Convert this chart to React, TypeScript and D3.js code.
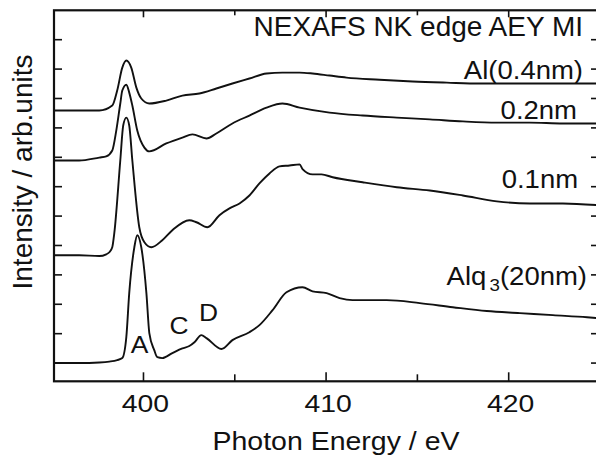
import React from "react";
import * as d3 from "d3";

const W = 596;
const H = 459;
const plot = { left: 54, right: 600, top: 10.3, bottom: 381.3 };

const FONT = "'Liberation Sans', Arial, Helvetica, sans-serif";

// x axis
const xMajorTicks = [400, 410, 420];
const xMinorTicks = [405, 415];
const yTicks = [0, 1, 2, 3, 4, 5, 6, 7, 8, 9, 10, 11];

// Al(0.4nm)
const al04Energy = [395.0, 396.48, 397.58, 398.29, 398.56, 398.84, 399.06, 399.33, 399.61, 399.88, 400.32, 401.25, 402.13, 403.06, 403.99, 404.87, 405.8, 406.74, 407.61, 408.55, 409.26, 410.19, 411.12, 412.93, 414.74, 416.61, 418.42, 420.23, 422.09, 423.9, 424.9];
const al04Intensity = [8.59, 8.59, 8.59, 8.76, 9.27, 10.05, 10.29, 10.05, 9.37, 9.0, 8.83, 8.93, 9.1, 9.17, 9.34, 9.51, 9.68, 9.85, 9.88, 9.88, 9.85, 9.78, 9.71, 9.64, 9.58, 9.54, 9.51, 9.51, 9.51, 9.51, 9.51];

// 0.2nm
const al02Energy = [395.0, 396.48, 397.58, 397.96, 398.29, 398.51, 398.73, 398.84, 399.06, 399.22, 399.39, 399.66, 400.05, 400.32, 401.25, 402.13, 402.68, 403.45, 403.99, 404.87, 405.8, 406.74, 407.61, 408.55, 410.19, 412.0, 413.87, 415.68, 417.49, 419.35, 421.16, 422.97, 424.9];
const al02Intensity = [6.89, 6.89, 6.99, 7.03, 7.23, 7.91, 8.83, 9.27, 9.47, 9.2, 8.76, 7.91, 7.33, 7.2, 7.47, 7.67, 7.78, 7.64, 7.81, 8.15, 8.42, 8.69, 8.83, 8.69, 8.52, 8.42, 8.35, 8.29, 8.22, 8.18, 8.18, 8.15, 8.15];

// 0.1nm
const al01Energy = [395.0, 396.48, 397.58, 397.96, 398.13, 398.29, 398.4, 398.73, 398.89, 399.06, 399.22, 399.39, 399.77, 400.05, 400.43, 401.03, 401.58, 402.51, 402.9, 403.5, 404.16, 404.71, 405.26, 405.8, 406.35, 406.9, 407.45, 408.0, 408.55, 408.71, 409.26, 409.75, 410.36, 412.0, 413.87, 415.68, 417.49, 419.35, 421.16, 422.97, 424.9];
const al01Intensity = [3.67, 3.67, 3.64, 3.7, 3.77, 3.94, 4.41, 6.89, 8.08, 8.35, 8.08, 6.89, 4.62, 4.11, 3.94, 4.18, 4.52, 4.86, 4.79, 4.62, 5.03, 5.26, 5.43, 5.7, 6.11, 6.45, 6.69, 6.72, 6.76, 6.6, 6.42, 6.42, 6.32, 6.15, 5.98, 5.87, 5.7, 5.5, 5.43, 5.43, 5.37];

// Alq3(20nm)
const alq3Energy = [395.0, 396.48, 397.58, 398.13, 398.56, 398.84, 399.06, 399.22, 399.5, 399.66, 399.88, 400.16, 400.32, 400.59, 400.76, 401.03, 401.58, 402.13, 402.51, 402.79, 403.17, 403.45, 404.27, 404.87, 405.8, 406.35, 407.07, 407.83, 408.71, 409.26, 410.03, 410.74, 411.45, 413.32, 415.13, 416.94, 418.8, 420.61, 422.42, 424.29, 424.9];
const alq3Intensity = [0, 0, 0.02, 0.05, 0.1, 0.17, 0.88, 2.38, 3.94, 4.35, 3.94, 2.38, 1.02, 0.44, 0.2, 0.17, 0.34, 0.5, 0.58, 0.71, 0.95, 0.85, 0.48, 0.78, 1.05, 1.29, 1.8, 2.41, 2.58, 2.44, 2.38, 2.21, 2.14, 2.14, 2.04, 1.9, 1.77, 1.7, 1.63, 1.56, 1.53];

const seriesList = [
  { name: "Al(0.4nm)", energy: al04Energy, intensity: al04Intensity },
  { name: "0.2nm", energy: al02Energy, intensity: al02Intensity },
  { name: "0.1nm", energy: al01Energy, intensity: al01Intensity },
  { name: "Alq3(20nm)", energy: alq3Energy, intensity: alq3Intensity },
];

const Label = ({ x, y, size, sx = 1, anchor = "start", children }: any) => (
  <text
    transform={`translate(${x},${y}) scale(${sx},1)`}
    fontSize={size}
    textAnchor={anchor}
    fill="#111"
    fontFamily={FONT}
  >
    {children}
  </text>
);

export default function App() {
  const x = d3.scaleLinear().domain([395.1, 425]).range([plot.left, plot.right]);
  const y = d3.scaleLinear().domain([-0.62, 12]).range([plot.bottom, plot.top]);

  const line = d3
    .line<[number, number]>()
    .x((d) => x(d[0]))
    .y((d) => y(d[1]))
    .curve(d3.curveMonotoneX);

  return (
    <svg
      width={W}
      height={H}
      style={{ position: "absolute", left: 0, top: 0, background: "#fff" }}
    >
      <rect width={W} height={H} fill="#fff" />
      <defs>
        <clipPath id="clip">
          <rect x={plot.left} y={plot.top} width={plot.right - plot.left} height={plot.bottom - plot.top} />
        </clipPath>
      </defs>

      {/* curves */}
      <g clipPath="url(#clip)">
        {seriesList.map((s) => (
          <path
            key={s.name}
            d={line(s.energy.map((e, i) => [e, s.intensity[i]] as [number, number])) || ""}
            fill="none"
            stroke="#111"
            strokeWidth={1.9}
            strokeLinejoin="round"
          />
        ))}
      </g>

      {/* frame */}
      <rect
        x={plot.left}
        y={plot.top}
        width={plot.right - plot.left}
        height={plot.bottom - plot.top}
        fill="none"
        stroke="#111"
        strokeWidth={2.2}
      />

      {/* x ticks (inward, top and bottom) */}
      {xMajorTicks.map((t) => (
        <g key={"M" + t}>
          <line x1={x(t)} x2={x(t)} y1={plot.bottom} y2={plot.bottom - 9} stroke="#111" strokeWidth={1.6} />
          <line x1={x(t)} x2={x(t)} y1={plot.top} y2={plot.top + 7} stroke="#111" strokeWidth={1.6} />
          <Label x={x(t) + 2} y={412} size={24} sx={1.18} anchor="middle">
            {t}
          </Label>
        </g>
      ))}
      {xMinorTicks.map((t) => (
        <g key={"m" + t}>
          <line x1={x(t)} x2={x(t)} y1={plot.bottom} y2={plot.bottom - 7} stroke="#111" strokeWidth={1.6} />
          <line x1={x(t)} x2={x(t)} y1={plot.top} y2={plot.top + 5} stroke="#111" strokeWidth={1.6} />
        </g>
      ))}

      {/* y ticks (inward, left and right) */}
      {yTicks.map((t) => (
        <g key={"y" + t}>
          <line x1={plot.left} x2={plot.left + 8} y1={y(t)} y2={y(t)} stroke="#111" strokeWidth={1.6} />
          <line x1={plot.right} x2={plot.right - 9} y1={y(t)} y2={y(t)} stroke="#111" strokeWidth={1.6} />
        </g>
      ))}

      {/* axis titles */}
      <Label x={336} y={450} size={25} sx={1.14} anchor="middle">
        Photon Energy / eV
      </Label>
      <text
        transform="translate(32,172) rotate(-90)"
        fontSize={28}
        textAnchor="middle"
        fill="#111"
        fontFamily={FONT}
      >
        Intensity / arb.units
      </text>

      {/* title and curve labels */}
      <Label x={x(424.07)} y={y(11.13)} size={28} anchor="end">
        NEXAFS NK edge AEY MI
      </Label>
      <Label x={x(424.07)} y={y(9.65)} size={25} sx={1.1} anchor="end">
        Al(0.4nm)
      </Label>
      <Label x={x(423.74)} y={y(8.3)} size={25} sx={1.1} anchor="end">
        0.2nm
      </Label>
      <Label x={x(423.8)} y={y(5.96)} size={25} sx={1.1} anchor="end">
        0.1nm
      </Label>
      <Label x={x(424.29)} y={y(2.66)} size={25} sx={1.1} anchor="end">
        Alq
        <tspan fontSize={17} dx={3} dy={6}>3</tspan>
        <tspan dy={-6}>(20nm)</tspan>
      </Label>

      {/* peak markers */}
      <Label x={x(399.78)} y={y(0.34)} size={24} sx={1.1} anchor="middle">A</Label>
      <Label x={x(401.95)} y={y(1.0)} size={24} sx={1.1} anchor="middle">C</Label>
      <Label x={x(403.56)} y={y(1.43)} size={24} sx={1.1} anchor="middle">D</Label>
    </svg>
  );
}
